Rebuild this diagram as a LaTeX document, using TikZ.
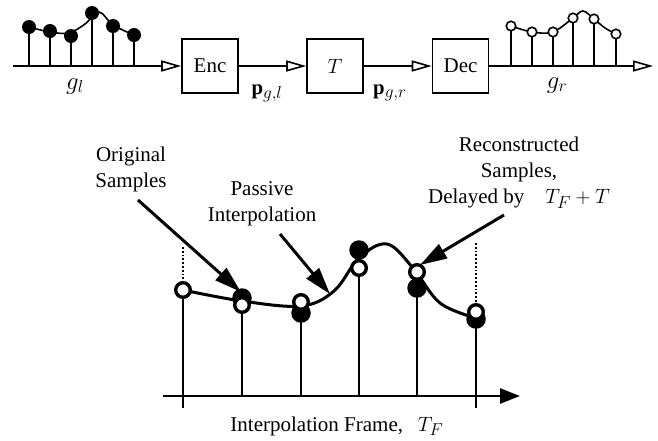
\documentclass[tikz,border=0pt]{standalone}
\usepackage{fontspec}
\setmainfont{Liberation Serif}
\usetikzlibrary{arrows.meta}
% larger sub- and superscripts for the 21pt labels
\DeclareMathSizes{21}{20.74}{17.28}{14.4}

\begin{document}
\begin{tikzpicture}[x=1pt,y=-1pt,
  every node/.style={font=\fontsize{21}{26}\selectfont},
  block/.style={draw, line width=1.6pt, minimum width=56pt, minimum height=54pt, inner sep=0pt},
  sig/.style={line width=1.6pt, -{Triangle[open, length=20pt, width=11pt]}},
  thin stem/.style={line width=1.6pt},
  sdot/.style={circle, fill=black, inner sep=0pt, minimum size=14pt},
  sodot/.style={circle, draw, fill=white, line width=1.6pt, inner sep=0pt, minimum size=9.5pt},
  stem/.style={line width=2.5pt},
  fdot/.style={circle, fill=black, inner sep=0pt, minimum size=19.5pt},
  odot/.style={circle, draw, fill=white, line width=3.4pt, inner sep=0pt, minimum size=14.6pt},
  annot/.style={line width=3pt, -{Triangle[length=27pt, width=16pt]}},
  axis/.style={line width=2.5pt, -{Triangle[length=20pt, width=15pt]}},
  guide/.style={line width=1.8pt, dotted},
  lbl/.style={align=center, inner sep=0pt},
  sym/.style={inner sep=0pt, anchor=base, font=\fontsize{24}{28}\selectfont}
]
\useasboundingbox (0,0) rectangle (658,440);

% ---------- encoder / transform / decoder chain ----------
\node[block] (enc) at (210,66) {Enc};
\node[block] (tr)  at (335,66) {$T$};
\node[block] (dec) at (460.5,66) {Dec};

\coordinate (la) at (13,66);
\coordinate (ra) at (653,66);

\draw[sig] (la) -- (enc.west);
\draw[sig] (enc.east) -- (tr.west);
\draw[sig] (tr.east) -- (dec.west);
\draw[sig] (dec.east) -- (ra);

\node[inner sep=0pt, anchor=base] (pl) at (267,94) {$\mathbf{p}_{g,l}$};
\node[inner sep=0pt, anchor=base] (pr) at (390,94) {$\mathbf{p}_{g,r}$};
\node[sym] (gl) at (75,89) {$g_l$};
\node[sym] (gr) at (557,88) {$g_r$};

% input samples
\foreach \i/\x/\y in {1/29/27, 2/50/31, 3/71/36, 4/92/13, 5/113/26, 6/134/35}
  \coordinate (lp\i) at (\x,\y);
\foreach \i in {1,...,6}
  \draw[thin stem] (lp\i |- la) -- (lp\i);
\draw[line width=1.6pt] plot[smooth, tension=0.55] coordinates
  {(29,27) (50,32) (69,33) (85,24) (99,12) (113,25) (134,35)};
\foreach \i in {1,...,6}
  \node[sdot] (l\i) at (lp\i) {};

% output samples
\foreach \i/\x/\y in {1/511/26, 2/532/32, 3/553/32, 4/573/18, 5/594/19, 6/616/34}
  \coordinate (rp\i) at (\x,\y);
\foreach \i in {1,...,6}
  \draw[thin stem] (rp\i |- ra) -- (rp\i);
\draw[line width=1.6pt] plot[smooth, tension=0.55] coordinates
  {(511,26) (532,32) (553,32) (573,18) (583,11) (594,19) (605,28) (616,34)};
\foreach \i in {1,...,6}
  \node[sodot] (r\i) at (rp\i) {};

% ---------- interpolation frame ----------
\coordinate (ax0) at (163,396);
\coordinate (ax1) at (520,396);
\coordinate (tk1) at (183,408);
\coordinate (tk6) at (476,408);

% frame boundaries
\coordinate (gd1) at (183,247);
\coordinate (gd6) at (476,243);
\coordinate (op1) at (183,290);
\coordinate (op6) at (476,312);
\draw[guide] (gd1) -- (op1);
\draw[guide] (gd6) -- (op6);

% sample positions
\coordinate (op2) at (242,305);
\coordinate (op3) at (301,302);
\coordinate (op4) at (359,268);
\coordinate (op5) at (417,272);
\coordinate (fp2) at (242,298);
\coordinate (fp3) at (301,313);
\coordinate (fp4) at (359,250);
\coordinate (fp5) at (417,288);
\coordinate (fp6) at (476,319);

\draw[stem] (tk1) -- (op1);
\draw[stem] (tk6) -- (op6);
\draw[stem] (op2 |- ax0) -- (op2);
\draw[stem] (op3 |- ax0) -- (fp3);
\draw[stem] (op4 |- ax0) -- (op4);
\draw[stem] (op5 |- ax0) -- (fp5);
\draw[axis] (ax0) -- (ax1);

% passive interpolation curve
\draw[line width=3pt] plot[smooth, tension=0.6] coordinates
  {(183,290) (242,301) (301,306) (334,291) (359,258) (387,244) (413,268) (440,303) (476,318)};

% original samples
\node[fdot] (f2) at (fp2) {};
\node[fdot] (f3) at (fp3) {};
\node[fdot] (f4) at (fp4) {};
\node[fdot] (f5) at (fp5) {};
\node[fdot] (f6) at (fp6) {};
% reconstructed samples
\node[odot] (o1) at (op1) {};
\node[odot] (o2) at (op2) {};
\node[odot] (o3) at (op3) {};
\node[odot] (o4) at (op4) {};
\node[odot] (o5) at (op5) {};
\node[odot] (o6) at (op6) {};

% annotations
\node[lbl] (orig) at (131,169) {Original\\Samples};
\node[lbl] (pass) at (262,204) {Passive\\Interpolation};
\node[lbl] (reco) at (519,173) {Reconstructed\\Samples,\\Delayed by\quad$T_F+T$};
\node[inner sep=0pt, anchor=base] (frame) at (337,431) {Interpolation Frame,\hspace{0.7em}$T_F$};

\coordinate (oa) at (138,200);
\coordinate (ob) at (241,292);
\coordinate (pa) at (280,234);
\coordinate (pb) at (330,294);
\coordinate (ra1) at (504,215);
\coordinate (rb1) at (420,265);
\draw[annot] (oa) -- (ob);
\draw[annot] (pa) -- (pb);
\draw[annot] (ra1) -- (rb1);
\end{tikzpicture}
\end{document}
